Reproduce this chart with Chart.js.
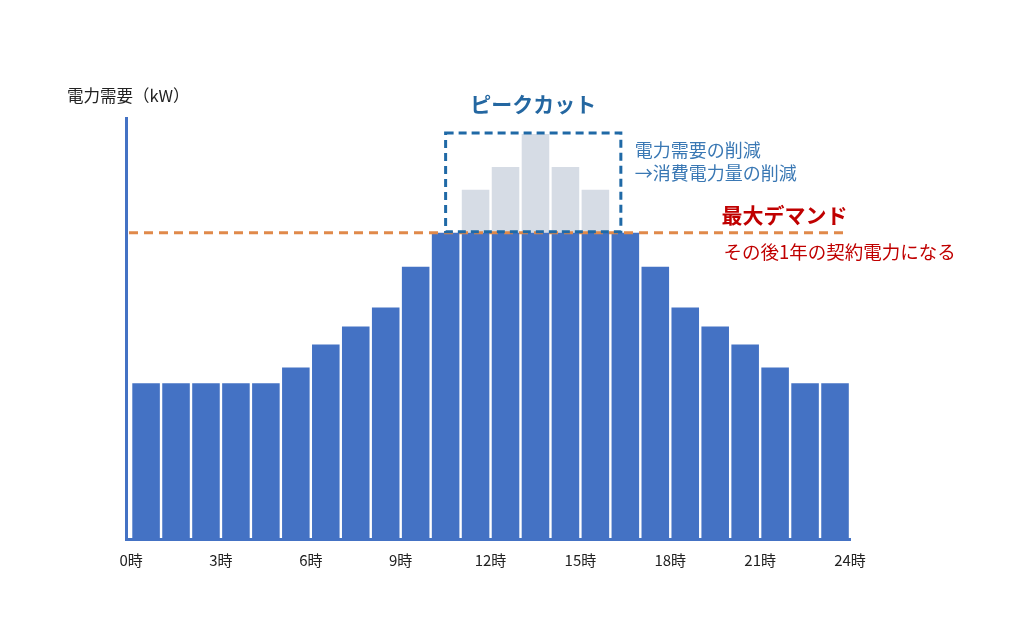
<!DOCTYPE html>
<html>
<head>
<meta charset="utf-8">
<script src="https://cdn.jsdelivr.net/npm/chart.js@4"></script>
<style>
  body { margin: 0; background: #ffffff; }
  #wrap { width: 1024px; height: 621px; }
</style>
</head>
<body>
<div id="wrap"><canvas id="graph" width="1024" height="621"></canvas></div>
<script>
// hourly demand (kW)
const hours = [0,1,2,3,4,5,6,7,8,9,10,11,12,13,14,15,16,17,18,19,20,21,22,23];
const demandKept = [155,155,155,155,155,171,194,212,231,272,306,306,306,306,306,306,306,272,231,212,194,171,155,155];
const peakCut    = [0,0,0,0,0,0,0,0,0,0,0,43,66,99,66,43,0,0,0,0,0,0,0,0];
const tickHours  = [0,3,6,9,12,15,18,21,24];
const maxDemand = 306;
const yMax = 421;

const font = '"Noto Sans CJK JP", "Noto Sans", sans-serif';

// each bar sits in the middle of its hour
const toPoints = vals => vals.map((v, i) => ({ x: hours[i] + 0.5, y: v }));

// dashed box, demand line and the notes
const notes = {
  id: 'notes',
  afterDatasetsDraw(chart) {
    const c = chart.ctx;
    const xs = chart.scales.x;
    const y = chart.scales.y;
    const area = chart.chartArea;
    const lineY = y.getPixelForValue(maxDemand);

    c.save();
    // max demand line
    c.strokeStyle = '#E0894A';
    c.lineWidth = 3;
    c.setLineDash([9, 6]);
    c.beginPath();
    c.moveTo(area.left + 3, lineY);
    c.lineTo(xs.getPixelForValue(23.85), lineY);
    c.stroke();

    // peak cut box
    const bx0 = xs.getPixelForValue(10.5);
    const bx1 = xs.getPixelForValue(16.35);
    const by0 = y.getPixelForValue(maxDemand + 100);
    c.strokeStyle = '#1F69A6';
    c.lineWidth = 3;
    c.setLineDash([8, 5]);
    c.strokeRect(bx0, by0, bx1 - bx0, lineY - by0 - 1);
    c.setLineDash([]);

    c.textBaseline = 'middle';
    c.textAlign = 'center';
    c.fillStyle = '#2467A1';
    c.font = 'bold 21px ' + font;
    c.fillText('ピークカット', (bx0 + bx1) / 2, by0 - 29);

    c.textAlign = 'left';
    c.fillStyle = '#3A78B4';
    c.font = '18px ' + font;
    c.fillText('電力需要の削減', bx1 + 14, by0 + 17);
    c.fillText('→消費電力量の削減', bx1 + 14, by0 + 40);

    c.fillStyle = '#C00000';
    c.font = 'bold 21px ' + font;
    c.fillText('最大デマンド', xs.getPixelForValue(19.71), lineY - 18);
    c.font = '18.5px ' + font;
    c.fillText('その後1年の契約電力になる', xs.getPixelForValue(19.78), lineY + 19);

    c.fillStyle = '#222222';
    c.font = '16.5px ' + font;
    c.fillText('電力需要（kW）', area.left - 59, area.top - 22);
    c.restore();
  }
};

new Chart(document.getElementById('graph'), {
  type: 'bar',
  data: {
    datasets: [
      { label: '電力需要', data: toPoints(demandKept), backgroundColor: '#4472C4',
        barPercentage: 1, categoryPercentage: 0.92 },
      { label: 'ピークカット', data: toPoints(peakCut), backgroundColor: '#D6DCE5',
        barPercentage: 1, categoryPercentage: 0.92 }
    ]
  },
  options: {
    responsive: false,
    animation: false,
    layout: { padding: { left: 126, right: 174, top: 118, bottom: 40 } },
    plugins: { legend: { display: false }, tooltip: { enabled: false } },
    scales: {
      x: {
        type: 'linear', stacked: true, offset: false, min: -0.17, max: 24,
        afterBuildTicks: s => { s.ticks = tickHours.map(v => ({ value: v })); },
        ticks: { callback: v => v + '時', color: '#222', padding: 12,
                 font: { family: font, size: 15 }, maxRotation: 0, autoSkip: false },
        grid: { display: false, drawTicks: false, offset: false },
        border: { display: true, color: '#4472C4', width: 3 }
      },
      y: {
        stacked: true, min: -1, max: yMax,
        ticks: { display: false },
        grid: { display: false, drawTicks: false },
        border: { display: true, color: '#4472C4', width: 3 }
      }
    }
  },
  plugins: [notes]
});
</script>
</body>
</html>
